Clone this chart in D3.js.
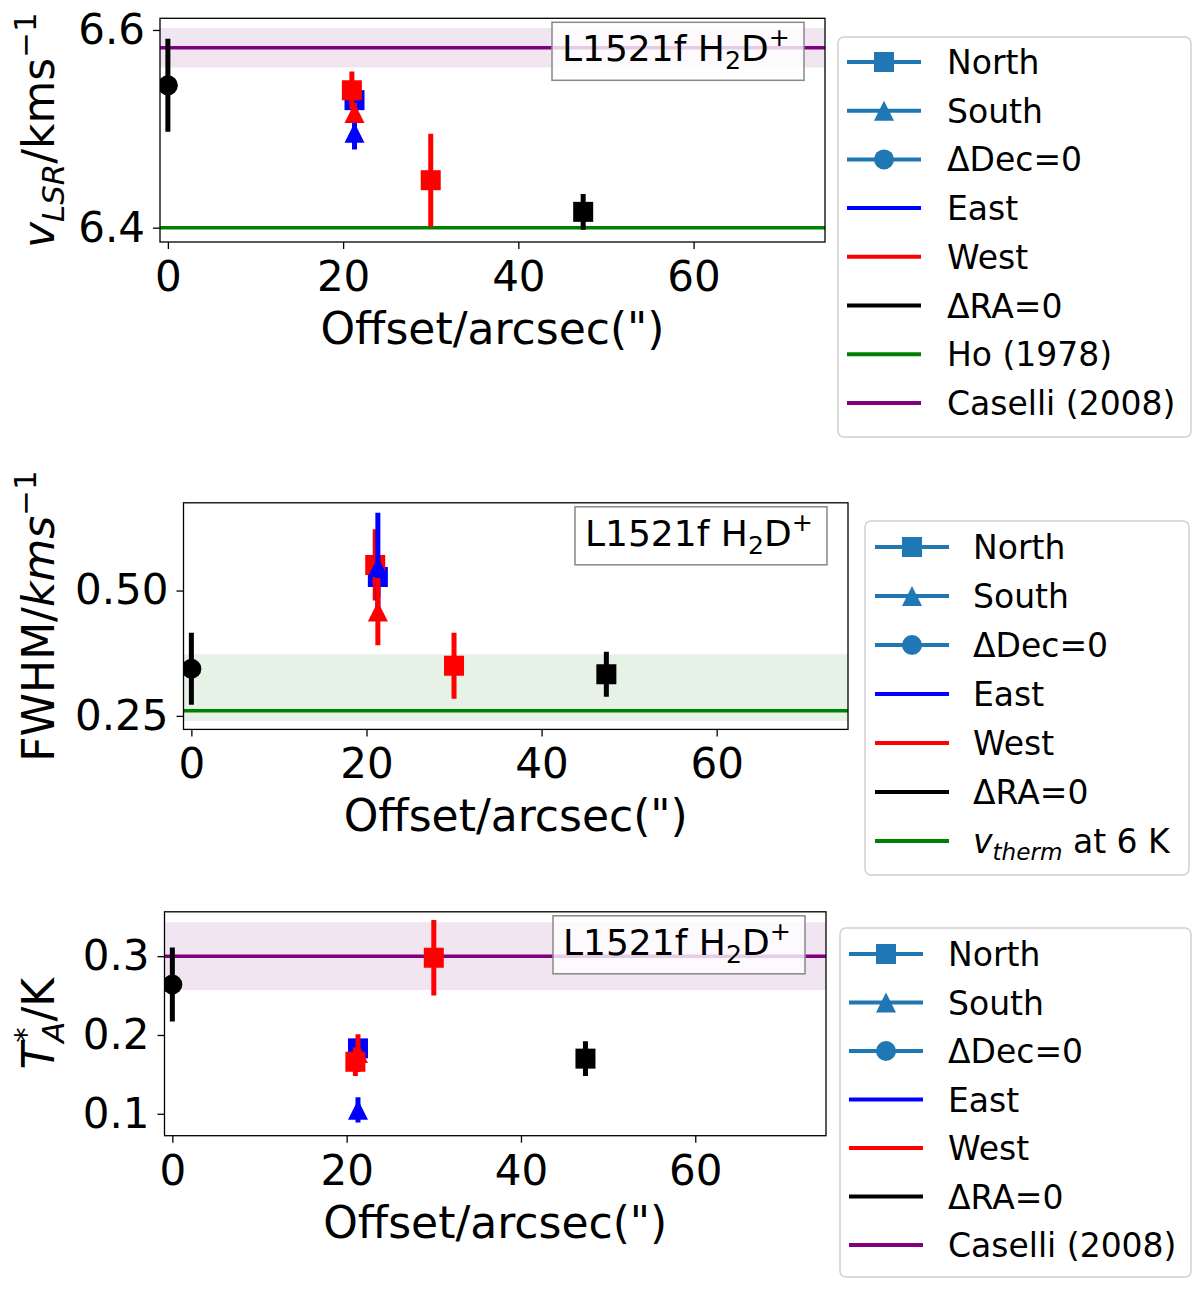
<!DOCTYPE html>
<html>
<head>
<meta charset="utf-8">
<script src="https://cdn.jsdelivr.net/npm/d3@7"></script>
<style>
  body { margin: 0; background: #fff; }
  text { font-family: "DejaVu Sans", sans-serif; }
</style>
</head>
<body>
<svg id="fig" width="1200" height="1291"></svg>
<script>
// pointings across the core: which side of centre (N/S) and (E/W)
const pointIds = ["C", "NE", "NW", "SE", "SW", "NW2", "N"];
const nsGroup = ["ΔDec=0", "North", "North", "South", "South", "North", "North"];
const ewGroup = ["ΔRA=0", "East", "West", "East", "West", "West", "ΔRA=0"];
const offsets = [0, 21.3, 21.0, 21.3, 21.3, 30.0, 47.4];

// fitted line parameters
const vlsr    = [6.544, 6.529, 6.539, 6.496, 6.516, 6.448, 6.416];
const vlsrErr = [0.047, 0.010, 0.019, 0.017, 0.010, 0.047, 0.018];
const fwhm    = [0.344, 0.527, 0.551, 0.547, 0.458, 0.350, 0.333];
const fwhmErr = [0.072, 0.040, 0.071, 0.108, 0.067, 0.066, 0.045];
const ta      = [0.264, 0.183, 0.166, 0.105, 0.177, 0.298, 0.170];
const taErr   = [0.047, 0.012, 0.018, 0.016, 0.024, 0.048, 0.022];

// literature values
const hoVlsr = 6.40;
const caselliVlsr = 6.582, caselliVlsrErr = 0.020;
const vThermFwhm = 0.260, vThermLow = 0.240, vThermHigh = 0.373;
const caselliTa = 0.300, caselliTaErr = 0.043;

// ticks
const xTicks = [0, 20, 40, 60];
const vlsrTicks = [6.4, 6.6];
const fwhmTicks = [0.25, 0.50];
const taTicks = [0.1, 0.2, 0.3];

const nsCats = ["North", "South", "ΔDec=0"];
const ewCats = ["East", "West", "ΔRA=0"];

const svg = d3.select("#fig");
const xDomain = [-0.9, 75];
const TICK_FS = 42, LABEL_FS = 44, LEG_FS = 33, BOX_FS = 36;

const colour = d3.scaleOrdinal().domain(ewCats).range(["blue", "red", "black"]);
const shape = d3.scaleOrdinal().domain(nsCats).range(["square", "triangle", "circle"]);

function marker(g, kind, cx, cy, s, fill) {
  const h = s / 2;
  if (kind === "square") {
    g.append("rect").attr("x", cx - h).attr("y", cy - h)
      .attr("width", s).attr("height", s).attr("fill", fill);
  } else if (kind === "triangle") {
    g.append("path")
      .attr("d", `M${cx},${cy - h}L${cx + h},${cy + h}L${cx - h},${cy + h}Z`)
      .attr("fill", fill);
  } else {
    g.append("circle").attr("cx", cx).attr("cy", cy).attr("r", h).attr("fill", fill);
  }
}

function richText(sel, parts, fs) {
  let cur = 0;
  parts.forEach(p => {
    const target = p.sub ? fs * 0.22 : p.sup ? -fs * 0.42 : 0;
    const ts = sel.append("tspan").text(p.t)
      .attr("dy", target - cur)
      .attr("font-size", (p.sub || p.sup) ? fs * 0.7 : fs);
    if (p.it) ts.attr("font-style", "italic");
    if (p.dx) ts.attr("dx", p.dx);
    cur = target;
  });
}

const baseLegend = [
  { label: [{ t: "North" }], marker: "square" },
  { label: [{ t: "South" }], marker: "triangle" },
  { label: [{ t: "ΔDec=0" }], marker: "circle" },
  { label: [{ t: "East" }], color: "blue" },
  { label: [{ t: "West" }], color: "red" },
  { label: [{ t: "ΔRA=0" }], color: "black" }
];
const hoEntry = { label: [{ t: "Ho (1978)" }], color: "green" };
const caselliEntry = { label: [{ t: "Caselli (2008)" }], color: "purple" };
const vthermEntry = { label: [{ t: "v", it: true }, { t: "therm", it: true, sub: true }, { t: " at 6 K" }], color: "green" };

const panels = [
  {
    values: vlsr, errs: vlsrErr,
    left: 160, right: 825, top: 18.3, bottom: 242,
    yDomain: [6.3855, 6.6118], ticks: vlsrTicks, fmt: ".1f",
    ylabel: [{ t: "v", it: true }, { t: "LSR", it: true, sub: true }, { t: "/kms" }, { t: "−1", sup: true }],
    bands: [{ lo: caselliVlsr - caselliVlsrErr, hi: caselliVlsr + caselliVlsrErr, color: "purple" }],
    lines: [{ v: caselliVlsr, color: "purple" }, { v: hoVlsr, color: "green" }],
    legend: { x: 838, y: 37, w: 353, h: 400, row0: 62, step: 48.7, hx: 847, tx: 947,
      entries: baseLegend.concat([hoEntry, caselliEntry]) }
  },
  {
    values: fwhm, errs: fwhmErr,
    left: 183.5, right: 848, top: 502.8, bottom: 729.4,
    yDomain: [0.223, 0.675], ticks: fwhmTicks, fmt: ".2f",
    ylabel: [{ t: "FWHM/" }, { t: "kms", it: true }, { t: "−1", sup: true }],
    bands: [{ lo: vThermLow, hi: vThermHigh, color: "green" }],
    lines: [{ v: vThermFwhm, color: "green" }],
    legend: { x: 865, y: 521, w: 324, h: 354, row0: 547, step: 49, hx: 875, tx: 973,
      entries: baseLegend.concat([vthermEntry]) }
  },
  {
    values: ta, errs: taErr,
    left: 164.5, right: 826, top: 911.8, bottom: 1135.7,
    yDomain: [0.0722, 0.3563], ticks: taTicks, fmt: ".1f",
    ylabel: [{ t: "T", it: true }, { t: "*", sup: true }, { t: "A", it: true, sub: true, dx: -LABEL_FS * 0.7 * 0.5 }, { t: "/K" }],
    bands: [{ lo: caselliTa - caselliTaErr, hi: caselliTa + caselliTaErr, color: "purple" }],
    lines: [{ v: caselliTa, color: "purple" }],
    legend: { x: 840, y: 928, w: 351, h: 349, row0: 954, step: 48.5, hx: 849, tx: 948,
      entries: baseLegend.concat([caselliEntry]) }
  }
];

panels.forEach((p, k) => drawPanel(p, k));

function drawPanel(p, k) {
  const x = d3.scaleLinear().domain(xDomain).range([p.left, p.right]);
  const y = d3.scaleLinear().domain(p.yDomain).range([p.bottom, p.top]);
  const g = svg.append("g");

  svg.append("clipPath").attr("id", "clip" + k)
    .append("rect").attr("x", p.left).attr("y", p.top)
    .attr("width", p.right - p.left).attr("height", p.bottom - p.top);
  const plot = g.append("g").attr("clip-path", `url(#clip${k})`);

  p.bands.forEach(b => {
    plot.append("rect")
      .attr("x", p.left).attr("width", p.right - p.left)
      .attr("y", y(b.hi)).attr("height", y(b.lo) - y(b.hi))
      .attr("fill", b.color).attr("fill-opacity", 0.1);
  });
  p.lines.forEach(l => {
    plot.append("line")
      .attr("x1", p.left).attr("x2", p.right)
      .attr("y1", y(l.v)).attr("y2", y(l.v))
      .attr("stroke", l.color).attr("stroke-width", 3.5);
  });

  // axes
  const xAxis = g.append("g")
    .attr("transform", `translate(0,${p.bottom})`)
    .call(d3.axisBottom(x).tickValues(xTicks).tickSize(7).tickPadding(12).tickFormat(d3.format("d")));
  const yAxis = g.append("g")
    .attr("transform", `translate(${p.left},0)`)
    .call(d3.axisLeft(y).tickValues(p.ticks).tickSize(7).tickPadding(8).tickFormat(d3.format(p.fmt)));
  [xAxis, yAxis].forEach(a => {
    a.select(".domain").remove();
    a.attr("font-family", null).attr("font-size", TICK_FS);
    a.selectAll(".tick line").attr("stroke", "#000").attr("stroke-width", 1.3);
    a.selectAll(".tick text").attr("fill", "#000");
  });

  g.append("text")
    .attr("x", (p.left + p.right) / 2).attr("y", p.bottom + 102)
    .attr("text-anchor", "middle").attr("font-size", LABEL_FS)
    .text("Offset/arcsec(\")");

  const yl = g.append("text")
    .attr("transform", `translate(54,${(p.top + p.bottom) / 2}) rotate(-90)`)
    .attr("text-anchor", "middle").attr("font-size", LABEL_FS);
  richText(yl, p.ylabel, LABEL_FS);

  // data points with error bars
  pointIds.forEach((id, i) => {
    const c = colour(ewGroup[i]);
    const cx = x(offsets[i]);
    plot.append("line")
      .attr("x1", cx).attr("x2", cx)
      .attr("y1", y(p.values[i] - p.errs[i])).attr("y2", y(p.values[i] + p.errs[i]))
      .attr("stroke", c).attr("stroke-width", 5);
    marker(plot, shape(nsGroup[i]), cx, y(p.values[i]), 20, c);
  });

  g.append("rect")
    .attr("x", p.left).attr("y", p.top)
    .attr("width", p.right - p.left).attr("height", p.bottom - p.top)
    .attr("fill", "none").attr("stroke", "#000").attr("stroke-width", 1.3);

  // source label
  const bw = 252, bh = 58;
  const bx = p.right - 21 - bw, by = p.top + 4;
  g.append("rect").attr("x", bx).attr("y", by).attr("width", bw).attr("height", bh)
    .attr("fill", "#fff").attr("fill-opacity", 0.8)
    .attr("stroke", "#888").attr("stroke-width", 1.5);
  const lt = g.append("text").attr("x", bx + 10).attr("y", by + 39).attr("font-size", BOX_FS);
  richText(lt, [{ t: "L1521f H" }, { t: "2", sub: true }, { t: "D" }, { t: "+", sup: true }], BOX_FS);

  // legend
  const L = p.legend;
  const lg = svg.append("g");
  lg.append("rect").attr("x", L.x).attr("y", L.y).attr("width", L.w).attr("height", L.h)
    .attr("rx", 6).attr("fill", "#fff").attr("fill-opacity", 0.8)
    .attr("stroke", "#d0d0d0").attr("stroke-width", 1.5);
  L.entries.forEach((e, j) => {
    const cy = L.row0 + j * L.step;
    const col = e.marker ? "#1f77b4" : e.color;
    lg.append("line").attr("x1", L.hx).attr("x2", L.hx + 74)
      .attr("y1", cy).attr("y2", cy)
      .attr("stroke", col).attr("stroke-width", 4);
    if (e.marker) marker(lg, e.marker, L.hx + 37, cy, 20, col);
    const t = lg.append("text").attr("x", L.tx).attr("y", cy + 12).attr("font-size", LEG_FS);
    richText(t, e.label, LEG_FS);
  });
}
</script>
</body>
</html>
